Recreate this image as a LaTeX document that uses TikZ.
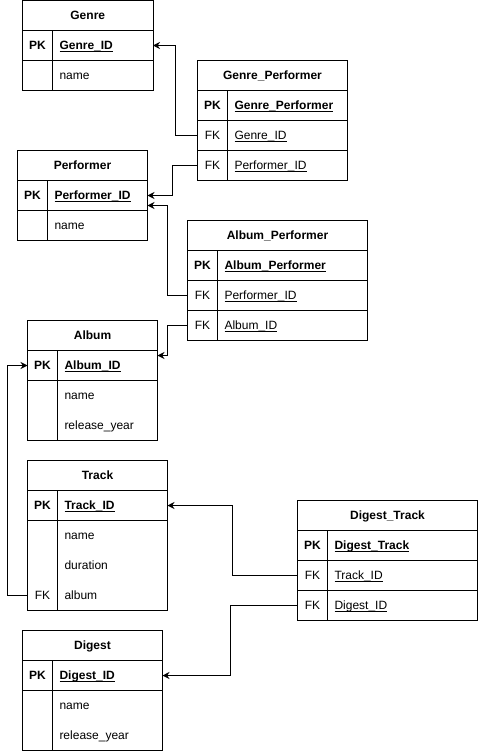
\documentclass[tikz,border=0pt]{standalone}
\usepackage{fontspec}
\setmainfont{Liberation Sans}
\usepackage{tikz}
\usetikzlibrary{arrows.meta, positioning}

% underlined key names
\newcommand{\uname}[1]{\setbox0=\hbox{#1}\rlap{\rule[-1.8pt]{\wd0}{0.8pt}}\box0}
\newcommand{\pkname}[1]{\uname{\textbf{#1}}}

% one table: name, x, y, width, title
\newcommand{\ertable}[5]{%
  \node[tblhead, minimum width=#4pt, anchor=north west] (#1) at (#2,#3) {#5};}
% rows of a table: name, text width of field column, key/field list
\newcommand{\errows}[3]{%
  \foreach \k/\f [count=\i] in {#3}{
    \node[keycell, anchor=north west] (#1-k\i) at ([yshift={-30*(\i-1)}]#1.south west) {\k};
    \node[fieldcell, text width=#2pt, anchor=west] (#1-f\i) at (#1-k\i.east) {\f};
  }}

\tikzset{
  tblhead/.style={draw, minimum height=30pt, inner sep=0pt, outer sep=0pt, text height=8.6pt, text depth=0pt,
    font=\fontsize{12}{14}\selectfont\bfseries},
  keycell/.style={minimum width=30pt, minimum height=30pt, inner sep=0pt, outer sep=0pt, text height=8.6pt, text depth=0pt},
  fieldcell/.style={minimum height=30pt, inner xsep=7pt, inner ysep=0pt, outer sep=0pt, align=left, text height=8.6pt, text depth=0pt},
  fk/.style={-{Stealth[length=7pt,width=7pt]}}
}

\begin{document}
\begin{tikzpicture}[x=1pt, y=-1pt, line width=1pt, font=\fontsize{12}{14}\selectfont]
\useasboundingbox (0,0) rectangle (478,751);

% tables
\ertable{genre}{22.5}{0.5}{130.5}{Genre}
\errows{genre}{86.5}{\textbf{PK}/\pkname{Genre\_ID}, /name}
\ertable{gp}{197.5}{60.5}{150}{Genre\_Performer}
\errows{gp}{106}{\textbf{PK}/\pkname{Genre\_Performer}, FK/\uname{Genre\_ID}, FK/\uname{Performer\_ID}}
\ertable{performer}{17.5}{150.5}{130}{Performer}
\errows{performer}{86}{\textbf{PK}/\pkname{Performer\_ID}, /name}
\ertable{ap}{187.5}{220.5}{180}{Album\_Performer}
\errows{ap}{136}{\textbf{PK}/\pkname{Album\_Performer}, FK/\uname{Performer\_ID}, FK/\uname{Album\_ID}}
\ertable{album}{27.5}{320.5}{130}{Album}
\errows{album}{86}{\textbf{PK}/\pkname{Album\_ID}, /name, /release\_year}
\ertable{track}{27.5}{460.5}{140}{Track}
\errows{track}{96}{\textbf{PK}/\pkname{Track\_ID}, /name, /duration, FK/album}
\ertable{dt}{297.5}{500.5}{180}{Digest\_Track}
\errows{dt}{136}{\textbf{PK}/\pkname{Digest\_Track}, FK/\uname{Track\_ID}, FK/\uname{Digest\_ID}}
\ertable{digest}{22.5}{630.5}{140}{Digest}
\errows{digest}{96}{\textbf{PK}/\pkname{Digest\_ID}, /name, /release\_year}

% row frames and key column
\draw (genre-k1.north west) rectangle (genre-f1.south east)
      (genre-k2.north west) rectangle (genre-f2.south east)
      (genre-k1.north east) -- (genre-k2.south east);
\draw (gp-k1.north west) rectangle (gp-f1.south east)
      (gp-k2.north west) rectangle (gp-f2.south east)
      (gp-k3.north west) rectangle (gp-f3.south east)
      (gp-k1.north east) -- (gp-k3.south east);
\draw (performer-k1.north west) rectangle (performer-f1.south east)
      (performer-k2.north west) rectangle (performer-f2.south east)
      (performer-k1.north east) -- (performer-k2.south east);
\draw (ap-k1.north west) rectangle (ap-f1.south east)
      (ap-k2.north west) rectangle (ap-f2.south east)
      (ap-k3.north west) rectangle (ap-f3.south east)
      (ap-k1.north east) -- (ap-k3.south east);
\draw (album-k1.north west) rectangle (album-f1.south east)
      (album-k2.north west) rectangle (album-f3.south east)
      (album-k1.north east) -- (album-k3.south east);
\draw (track-k1.north west) rectangle (track-f1.south east)
      (track-k2.north west) rectangle (track-f4.south east)
      (track-k1.north east) -- (track-k4.south east);
\draw (dt-k1.north west) rectangle (dt-f1.south east)
      (dt-k2.north west) rectangle (dt-f2.south east)
      (dt-k3.north west) rectangle (dt-f3.south east)
      (dt-k1.north east) -- (dt-k3.south east);
\draw (digest-k1.north west) rectangle (digest-f1.south east)
      (digest-k2.north west) rectangle (digest-f3.south east)
      (digest-k1.north east) -- (digest-k3.south east);

% foreign keys
\draw[fk] (gp-k2.west) -- ++(-22,0) |- (genre-f1.east);
\draw[fk] (gp-k3.west) -- ++(-25,0) |- (performer-f1.east);
\draw[fk] (ap-k2.west) -- ++(-20,0) |- ([yshift=-10pt]performer-f1.east);
\draw[fk] (ap-k3.west) -- ++(-20,0) |- ([yshift=10pt]album-f1.east);
\draw[fk] (track-k4.west) -- ++(-20,0) |- (album-k1.west);
\draw[fk] (dt-k2.west) -- ++(-65,0) |- (track-f1.east);
\draw[fk] (dt-k3.west) -- ++(-67,0) |- (digest-f1.east);
\end{tikzpicture}
\end{document}
